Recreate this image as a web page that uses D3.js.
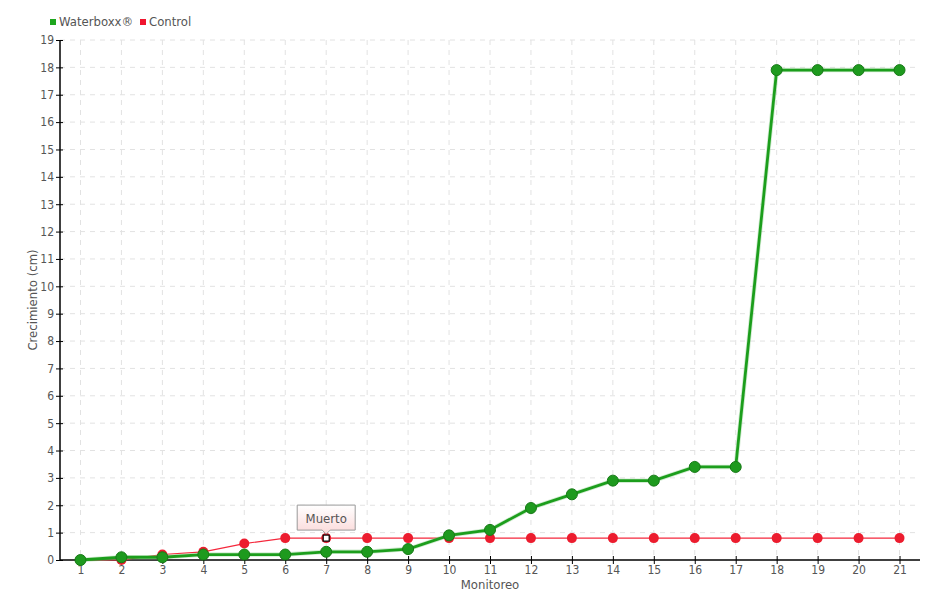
<!DOCTYPE html>
<html>
<head>
<meta charset="utf-8">
<script src="https://cdn.jsdelivr.net/npm/d3@7"></script>
<style>
  body { margin: 0; background: #fff; }
  text { font-family: "DejaVu Sans Condensed", "DejaVu Sans", sans-serif; fill: #555; }
</style>
</head>
<body>
<svg id="chart"></svg>
<script>
const width = 940,
  height = 600;
const margin = { top: 40, right: 20, bottom: 40, left: 60 };

const monitoreo = d3.range(1, 22);
const waterboxx = [0, 0.1, 0.1, 0.2, 0.2, 0.2, 0.3, 0.3, 0.4, 0.9, 1.1, 1.9, 2.4, 2.9, 2.9, 3.4, 3.4, 17.9, 17.9, 17.9, 17.9];
const control = [0, 0, 0.2, 0.3, 0.6, 0.8, 0.8, 0.8, 0.8, 0.8, 0.8, 0.8, 0.8, 0.8, 0.8, 0.8, 0.8, 0.8, 0.8, 0.8, 0.8];
const yTicks = d3.range(0, 20);
const tooltipIndex = 6; // Monitoreo 7, Control
const tooltipText = "Muerto";

var svg = d3.select("#chart").attr("width", width).attr("height", height);

var x = d3
  .scalePoint()
  .domain(monitoreo)
  .range([margin.left, width - margin.right])
  .padding(0.5);

var y = d3
  .scaleLinear()
  .domain([0, 19])
  .range([height - margin.bottom, margin.top]);

// grid
var grid = svg.append("g").attr("class", "grid");
grid
  .selectAll(".hgrid")
  .data(yTicks.slice(1))
  .enter()
  .append("line")
  .attr("x1", margin.left)
  .attr("x2", width - margin.right)
  .attr("y1", (d) => y(d))
  .attr("y2", (d) => y(d))
  .attr("stroke", "#e2e2e2")
  .attr("stroke-dasharray", "5,5");
grid
  .selectAll(".vgrid")
  .data(monitoreo)
  .enter()
  .append("line")
  .attr("x1", (d) => x(d))
  .attr("x2", (d) => x(d))
  .attr("y1", margin.top)
  .attr("y2", height - margin.bottom)
  .attr("stroke", "#e2e2e2")
  .attr("stroke-dasharray", "5,5");

// axes
var xAxis = svg
  .append("g")
  .attr("transform", "translate(0," + (height - margin.bottom) + ")")
  .call(d3.axisBottom(x).tickSize(0).tickPadding(5));
xAxis.select(".domain").remove();
xAxis
  .append("line")
  .attr("x1", margin.left)
  .attr("x2", width - margin.right)
  .attr("stroke", "#000")
  .attr("stroke-width", 1.5);
xAxis
  .selectAll(".tick")
  .append("line")
  .attr("y1", -4)
  .attr("y2", 4)
  .attr("stroke", "#000");
xAxis.selectAll("text").style("font-size", "12px").attr("fill", "#555");

var yAxis = svg
  .append("g")
  .attr("transform", "translate(" + margin.left + ",0)")
  .call(d3.axisLeft(y).tickValues(yTicks).tickSize(0).tickPadding(6));
yAxis.select(".domain").remove();
yAxis
  .append("line")
  .attr("y1", margin.top)
  .attr("y2", height - margin.bottom)
  .attr("stroke", "#000")
  .attr("stroke-width", 1.5);
yAxis
  .selectAll(".tick")
  .append("line")
  .attr("x1", -4)
  .attr("x2", 3)
  .attr("stroke", "#000");
yAxis.selectAll("text").style("font-size", "12px").attr("fill", "#555");

// axis titles
svg
  .append("text")
  .attr("x", (margin.left + width - margin.right) / 2)
  .attr("y", height - 11)
  .attr("text-anchor", "middle")
  .style("font-size", "13px")
  .text("Monitoreo");
svg
  .append("text")
  .attr("transform", "translate(37," + (margin.top + height - margin.bottom) / 2 + ") rotate(-90)")
  .attr("text-anchor", "middle")
  .style("font-size", "13px")
  .text("Crecimiento (cm)");

// lines
var line = d3
  .line()
  .x((d, i) => x(monitoreo[i]))
  .y((d) => y(d));

svg
  .append("path")
  .datum(control)
  .attr("fill", "none")
  .attr("stroke", "#f5283c")
  .attr("stroke-width", 1.2)
  .attr("d", line);

svg
  .append("g")
  .selectAll("circle")
  .data(control)
  .enter()
  .append("circle")
  .attr("cx", (d, i) => x(monitoreo[i]))
  .attr("cy", (d) => y(d))
  .attr("r", 5)
  .attr("fill", "#ec1c2e");

svg
  .append("path")
  .datum(waterboxx)
  .attr("fill", "none")
  .attr("stroke", "#8fd08f")
  .attr("stroke-width", 4.5)
  .attr("stroke-opacity", 0.4)
  .attr("d", line);
svg
  .append("path")
  .datum(waterboxx)
  .attr("fill", "none")
  .attr("stroke", "#1c9e1c")
  .attr("stroke-width", 2.8)
  .attr("d", line);

svg
  .append("g")
  .selectAll("circle")
  .data(waterboxx)
  .enter()
  .append("circle")
  .attr("cx", (d, i) => x(monitoreo[i]))
  .attr("cy", (d) => y(d))
  .attr("r", 5.5)
  .attr("fill", "#1e9a1e")
  .attr("stroke", "#177a17")
  .attr("stroke-width", 1);

// tooltip
var tx = x(monitoreo[tooltipIndex]),
  ty = y(control[tooltipIndex]);
var defs = svg.append("defs");
var grad = defs
  .append("linearGradient")
  .attr("id", "tipGrad")
  .attr("x1", 0)
  .attr("y1", 0)
  .attr("x2", 0)
  .attr("y2", 1);
grad.append("stop").attr("offset", "0%").attr("stop-color", "#ffffff");
grad.append("stop").attr("offset", "100%").attr("stop-color", "#fbd9d9");

var tipW = 58,
  tipH = 25,
  tipBottom = ty - 8;
var tipPath =
  "M" + (tx - tipW / 2) + "," + (tipBottom - tipH) +
  " H" + (tx + tipW / 2) +
  " V" + tipBottom +
  " H" + (tx + 4) +
  " L" + tx + "," + (tipBottom + 4) +
  " L" + (tx - 4) + "," + tipBottom +
  " H" + (tx - tipW / 2) + " Z";
svg
  .append("path")
  .attr("d", tipPath)
  .attr("fill", "url(#tipGrad)")
  .attr("stroke", "#999")
  .attr("stroke-width", 1);
svg
  .append("text")
  .attr("x", tx)
  .attr("y", tipBottom - tipH / 2 + 5)
  .attr("text-anchor", "middle")
  .style("font-size", "13px")
  .text(tooltipText);
svg
  .append("rect")
  .attr("x", tx - 3)
  .attr("y", ty - 3)
  .attr("width", 6)
  .attr("height", 6)
  .attr("fill", "#fff")
  .attr("stroke", "#000")
  .attr("stroke-width", 1.2);

// legend
var legendData = [
  { name: "Waterboxx®", color: "#1ea61e", x: 50 },
  { name: "Control", color: "#f0142e", x: 140 },
];
var legend = svg
  .append("g")
  .selectAll("g")
  .data(legendData)
  .enter()
  .append("g")
  .attr("transform", (d) => "translate(" + d.x + ",17)");
legend
  .append("rect")
  .attr("width", 6)
  .attr("height", 6)
  .attr("y", 2)
  .attr("fill", (d) => d.color);
legend
  .append("text")
  .attr("x", 9)
  .attr("y", 9)
  .style("font-size", "13px")
  .text((d) => d.name);
</script>
</body>
</html>
